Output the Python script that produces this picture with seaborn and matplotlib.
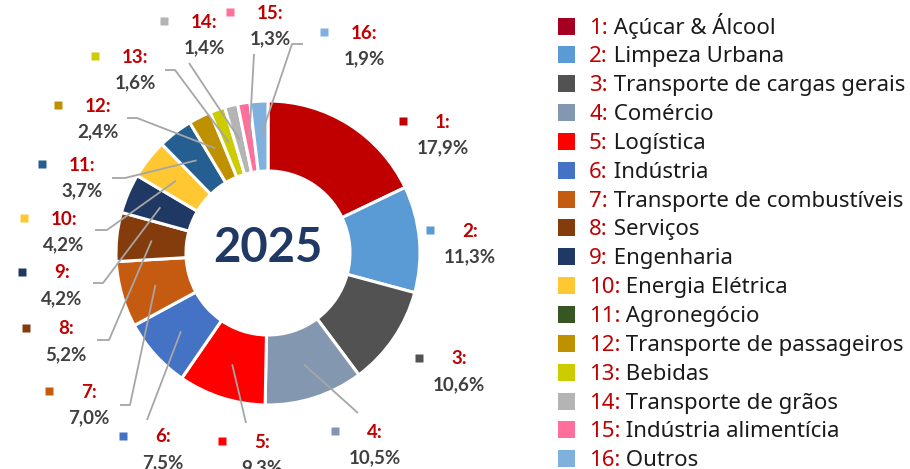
import numpy as np
import matplotlib
matplotlib.use("Agg")
import matplotlib.pyplot as plt
import seaborn as sns

# dados
sectores = ["Açúcar & Álcool", "Limpeza Urbana", "Transporte de cargas gerais",
            "Comércio", "Logística", "Indústria", "Transporte de combustíveis",
            "Serviços", "Engenharia", "Energia Elétrica", "Agronegócio",
            "Transporte de passageiros", "Bebidas", "Transporte de grãos",
            "Indústria alimentícia", "Outros"]
participacao = [17.9, 11.3, 10.6, 10.5, 9.3, 7.5, 7.0, 5.2, 4.2, 4.2, 3.7,
                2.4, 1.6, 1.4, 1.3, 1.9]
ano = "2025"

cores_fatias = ["#C00000", "#5B9BD5", "#525252", "#8497B0", "#FF0000", "#4472C4",
                "#C55A11", "#843C0C", "#203864", "#FFC832", "#255E91", "#BF9000",
                "#CCCC00", "#B4B4B4", "#FF6F9C", "#7FB0DE"]
cores_legenda = ["#A50021", "#5B9BD5", "#525252", "#8497B0", "#FF0000", "#4472C4",
                 "#C55A11", "#843C0C", "#203864", "#FFC832", "#375623", "#BF9000",
                 "#CCCC00", "#B4B4B4", "#FF6F9C", "#7FB0DE"]

# posicoes dos rotulos (pixels, origem no topo)
pos_rotulos = [(443, 122), (470, 231), (459, 359), (375, 432), (262, 442),
               (163, 437), (89, 392), (66, 329), (62, 273), (64, 219),
               (82, 165), (98, 106), (135, 57), (204, 22), (270, 13), (364, 33)]
linhas_guia = {3: [(358, 413)], 4: [(246, 423)], 5: [(147, 420)],
               6: [(130, 405), (120, 405)], 7: [(109, 340), (97, 340)],
               8: [(103, 283), (93, 283)], 9: [(107, 230), (95, 230)],
               10: [(125, 178), (112, 178)], 11: [(137, 118), (127, 118)],
               12: [(175, 70), (165, 70)], 13: [(189, 63)], 14: [(254, 54)],
               15: [(292, 44), (303, 44)]}

sns.set_theme(style="white")
plt.rcParams['font.family'] = ['Lato', 'DejaVu Sans']

W, H = 910, 469
fig = plt.figure(figsize=(W / 100, H / 100), dpi=100)
ax = fig.add_axes([0, 0, 1, 1])

cx, cy = 268, 253
r_ext, largura = 152, 70


def py(y):
    return H - y


ax.pie(participacao, colors=cores_fatias, startangle=90, counterclock=False,
       center=(cx, py(cy)), radius=r_ext,
       wedgeprops=dict(width=largura, edgecolor="white", linewidth=2.2))
ax.set_xlim(0, W)
ax.set_ylim(0, H)
ax.set_aspect("equal")
ax.axis("off")

ax.text(cx, py(248), ano, ha="center", va="center", fontsize=34,
        fontweight="bold", color="#1F3864")

# rotulos e linhas guia
acum = np.cumsum(participacao) - np.array(participacao) / 2
total = sum(participacao)
r_anc = r_ext - largura / 2
for i, v in enumerate(participacao):
    lx, ly = pos_rotulos[i]
    ax.plot(lx - 40, py(ly - 1), marker="s", ms=6, color=cores_fatias[i], mec="none")
    ax.text(lx, py(ly), f"{i + 1}:", ha="center", va="center", fontsize=13.5,
            fontweight="bold", color="#C00000")
    ax.text(lx, py(ly + 25.5), f"{v:.1f}".replace(".", ",") + "%", ha="center",
            va="center", fontsize=13.5, fontweight="bold", color="#404040")
    if i in linhas_guia:
        ang = np.deg2rad(90 - 360 * acum[i] / total)
        xs = [cx + r_anc * np.cos(ang)] + [p[0] for p in linhas_guia[i]]
        ys = [py(cy - r_anc * np.sin(ang))] + [py(p[1]) for p in linhas_guia[i]]
        ax.plot(xs, ys, color="#A6A6A6", lw=1.3, solid_capstyle="butt")

# legenda
for i, nome in enumerate(sectores):
    y = py(26 + i * 28.85)
    ax.add_patch(plt.Rectangle((558, y - 8.5), 17, 17, color=cores_legenda[i], lw=0))
    t = ax.text(589, y - 2, f"{i + 1}:", ha="left", va="center", fontsize=16,
                color="#C00000", family=["Noto Sans", "DejaVu Sans"])
    ax.annotate(" " + nome, xy=(1, 0), xycoords=t, ha="left", va="bottom",
                fontsize=16, color="#1A1A1A", family=["Noto Sans", "DejaVu Sans"])

fig.savefig("out.png", dpi=100)
